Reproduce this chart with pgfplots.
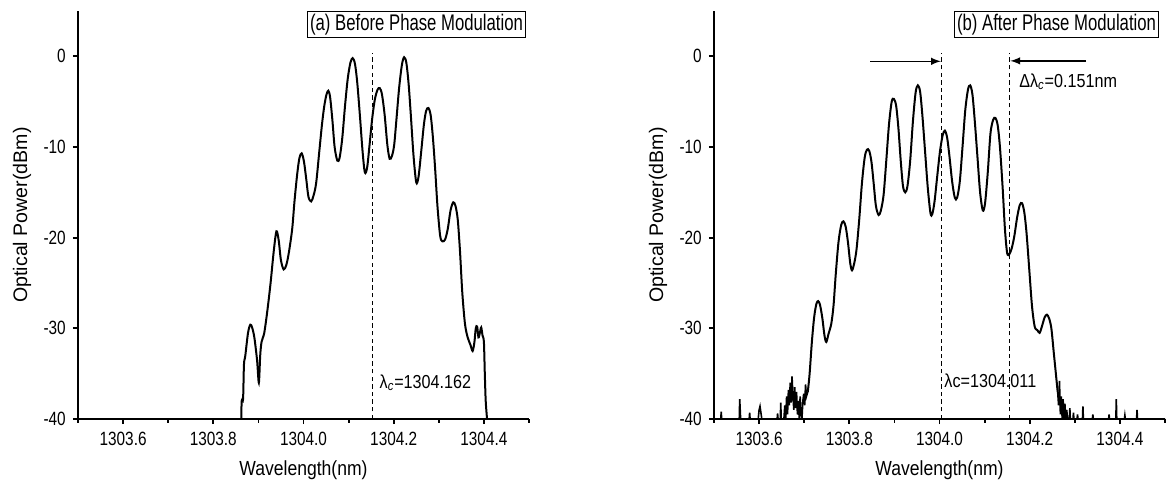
\documentclass[border=0pt]{standalone}
\usepackage{fontspec}
\setmainfont{Liberation Sans}
\usepackage{graphicx}
\usepackage{pgfplots}
\pgfplotsset{compat=1.18}
% condensed text via a horizontal scale
\newcommand\cz[1]{\scalebox{0.8}[1]{#1}}
\newcommand\tz[1]{\scalebox{0.74}[1]{#1}}
\newcommand\sz[1]{\scalebox{0.86}[1]{#1}}

\pgfplotsset{
  spec/.style={
    width=225.5pt, height=204pt, scale only axis,
    xmin=1303.5, xmax=1304.5, ymin=-40, ymax=5,
    axis x line*=bottom, axis y line*=left,
    axis line style={line width=1.1pt},
    xtick={1303.6,1303.8,1304.0,1304.2,1304.4},
    xticklabels={\cz{1303.6},\cz{1303.8},\cz{1304.0},\cz{1304.2},\cz{1304.4}},
    minor xtick={1303.5,1303.7,1303.9,1304.1,1304.3,1304.5},
    ytick={-40,-30,-20,-10,0},
    yticklabels={\cz{-40},\cz{-30},\cz{-20},\cz{-10},\cz{0}},
    tick align=outside,
    major tick length=2.6pt, minor tick length=2pt,
    tick style={line width=0.9pt, black},
    tick label style={font=\fontsize{9.6}{11}\selectfont},
    xticklabel style={yshift=-0.5pt},
    xlabel={\sz{Wavelength(nm)}},
    xlabel style={font=\fontsize{10.2}{12}\selectfont,
      at={(axis description cs:0.5,0)}, anchor=center, yshift=-25.5pt},
    ylabel={Optical Power(dBm)},
    % the label is rotated, so its local y points to the left
    ylabel style={font=\fontsize{9.8}{12}\selectfont,
      at={(axis description cs:0,0.5)}, anchor=center, yshift=28pt},
    every axis plot/.append style={black, line width=1pt},
  },
}
\tikzset{
  ttl/.style={draw, line width=0.6pt, inner sep=1.2pt, minimum height=11pt,
    font=\fontsize{11.3}{12}\selectfont, anchor=north east},
  ann/.style={font=\fontsize{9.4}{11}\selectfont, anchor=west, inner sep=0pt},
  vdash/.style={line width=0.6pt, dash pattern=on 2.2pt off 1.6pt},
}

\begin{document}
\begin{tikzpicture}
% (a) before phase modulation
\begin{axis}[spec]
\addplot[sharp plot] coordinates {(1303.5,-40)(1303.862,-40)};
\addplot[smooth, tension=0.5] coordinates {
(1303.862,-40)(1303.863,-38)(1303.866,-37.8)(1303.868,-34)(1303.871,-33)
(1303.877,-30.5)(1303.882,-29.6)(1303.886,-29.9)(1303.891,-31)(1303.897,-33.5)
(1303.901,-36)(1303.904,-33)(1303.907,-31.5)(1303.913,-30.5)(1303.920,-28)
(1303.927,-25)(1303.934,-21.5)(1303.940,-19.3)(1303.945,-20.3)(1303.950,-22.5)
(1303.956,-23.5)(1303.962,-23)(1303.968,-21.5)(1303.975,-19)(1303.980,-16)
(1303.986,-13)(1303.991,-11.2)(1303.996,-10.7)(1304.001,-11.6)(1304.006,-13.5)
(1304.011,-15.5)(1304.017,-16)(1304.022,-15.4)(1304.028,-14)(1304.035,-10.5)
(1304.041,-7.5)(1304.046,-5.5)(1304.051,-4.2)(1304.055,-3.8)(1304.059,-4.5)
(1304.064,-7)(1304.069,-10)(1304.075,-11.5)(1304.080,-11.2)(1304.086,-9)
(1304.092,-5.5)(1304.098,-2.5)(1304.104,-0.7)(1304.109,-0.2)(1304.114,-0.8)
(1304.119,-2.8)(1304.125,-6.5)(1304.131,-10.5)(1304.136,-12.8)(1304.141,-12.3)
(1304.146,-10)(1304.152,-7)(1304.158,-4.8)(1304.164,-3.7)(1304.169,-3.5)
(1304.174,-4.2)(1304.180,-6.5)(1304.186,-9.8)(1304.191,-11.3)(1304.196,-11)
(1304.201,-9.8)(1304.206,-7)(1304.212,-3.5)(1304.218,-1)(1304.223,-0.1)
(1304.228,-0.7)(1304.233,-3)(1304.238,-6.5)(1304.244,-11)(1304.250,-13.9)
(1304.255,-13.3)(1304.261,-10.5)(1304.267,-7.5)(1304.272,-6)(1304.277,-5.7)
(1304.282,-6.5)(1304.287,-9)(1304.292,-12.5)(1304.297,-16.5)(1304.303,-19.8)
(1304.308,-20.4)(1304.314,-20.2)(1304.320,-19)(1304.326,-17)(1304.332,-16.1)
(1304.337,-16.5)(1304.342,-18)(1304.347,-21.5)(1304.352,-26)(1304.358,-29.5)
(1304.364,-31)(1304.370,-31.8)(1304.375,-32.5)(1304.379,-31.5)(1304.382,-30)
(1304.385,-29.8)(1304.388,-31)(1304.391,-30.5)(1304.394,-29.9)(1304.397,-30.8)
(1304.400,-31.5)(1304.402,-35)(1304.404,-38)(1304.407,-40)
};
\addplot[vdash, line width=0.6pt] coordinates {(1304.153,-40)(1304.153,0.4)};
\node[ann] at (axis cs:1304.168,-36) {\sz{λ\textsubscript{\itshape c}=1304.162}};
\node[ttl, xshift=-1.5pt] at (rel axis cs:1,1) {\tz{(a) Before Phase Modulation}};
\end{axis}

% (b) after phase modulation
\begin{axis}[spec, at={(318pt,0)}]
\addplot[sharp plot, line width=0.8pt] coordinates {
(1303.5,-40)(1303.515,-40)(1303.516,-39.2)(1303.517,-40)(1303.556,-40)
(1303.557,-37.8)(1303.559,-40)(1303.578,-40)(1303.579,-39.3)(1303.580,-40)
(1303.598,-40)(1303.600,-39)(1303.602,-38.6)(1303.604,-39.3)(1303.606,-40)
(1303.640,-40)(1303.641,-39.4)(1303.642,-40)(1303.647,-40)(1303.648,-38.2)
(1303.649,-40)(1303.655,-40)(1303.657,-38.5)(1303.659,-40)(1303.661,-37.5)
(1303.663,-39.5)(1303.665,-36.8)(1303.667,-38.5)(1303.669,-36)(1303.671,-38.2)
(1303.673,-35.3)(1303.675,-37.5)(1303.677,-39)(1303.679,-36.5)(1303.681,-38.8)
(1303.683,-37)(1303.685,-39.5)(1303.687,-38)(1303.689,-40)(1303.691,-37.5)
(1303.693,-39.5)(1303.695,-40)(1303.697,-38)(1303.699,-37.2)(1303.701,-38.5)
(1303.703,-36.2)(1303.705,-37.5)(1303.708,-37)
};
\addplot[smooth, tension=0.5] coordinates {
(1303.708,-37)(1303.712,-35)(1303.717,-31.5)(1303.722,-28.8)(1303.727,-27.3)
(1303.731,-27)(1303.735,-27.4)(1303.740,-28.8)(1303.745,-30.8)(1303.749,-31.5)
(1303.754,-30.6)(1303.760,-29.5)(1303.765,-27.5)(1303.770,-24)(1303.776,-20.5)
(1303.782,-18.6)(1303.787,-18.2)(1303.792,-18.8)(1303.797,-20.5)(1303.802,-22.8)
(1303.806,-23.6)(1303.811,-22.8)(1303.816,-21.3)(1303.822,-18)(1303.828,-14)
(1303.834,-11.2)(1303.839,-10.3)(1303.844,-10.4)(1303.849,-11.6)(1303.854,-14)
(1303.859,-16.5)(1303.865,-17.5)(1303.870,-17)(1303.876,-15.3)(1303.882,-11.5)
(1303.888,-7.5)(1303.894,-5)(1303.899,-4.7)(1303.904,-5.5)(1303.909,-8)
(1303.914,-11.5)(1303.919,-14.3)(1303.924,-15)(1303.929,-14.3)(1303.935,-11.5)
(1303.941,-7.2)(1303.947,-4)(1303.952,-3.2)(1303.957,-3.9)(1303.962,-6.5)
(1303.968,-10.5)(1303.974,-14.5)(1303.980,-17.3)(1303.984,-17.4)(1303.989,-16)
(1303.995,-13.2)(1304.001,-10.5)(1304.007,-8.7)(1304.012,-8.2)(1304.017,-9)
(1304.022,-11)(1304.028,-13.8)(1304.034,-15.6)(1304.039,-15.6)(1304.045,-13.8)
(1304.051,-10)(1304.057,-6)(1304.063,-3.7)(1304.068,-3.2)(1304.073,-4.2)
(1304.078,-7)(1304.084,-11)(1304.090,-15)(1304.096,-17)(1304.101,-16.2)
(1304.107,-12.8)(1304.113,-8.5)(1304.119,-7)(1304.124,-6.8)(1304.129,-7.6)
(1304.134,-10)(1304.140,-14.5)(1304.145,-19)(1304.150,-21.7)(1304.155,-21.8)
(1304.160,-21.2)(1304.166,-19.8)(1304.172,-17.8)(1304.178,-16.4)(1304.183,-16.2)
(1304.188,-17.2)(1304.193,-19.5)(1304.199,-23.5)(1304.205,-27.5)(1304.211,-29.8)
(1304.217,-30.2)(1304.222,-30.5)(1304.227,-29.8)(1304.233,-28.8)(1304.238,-28.5)
(1304.243,-28.9)(1304.248,-30)(1304.253,-32.5)(1304.258,-35)(1304.262,-37)
};
\addplot[sharp plot, line width=0.8pt] coordinates {
(1304.262,-37)(1304.264,-38.5)(1304.266,-35.8)(1304.268,-39.5)(1304.270,-37.5)
(1304.272,-40)(1304.274,-37.8)(1304.276,-40)(1304.278,-38.3)(1304.280,-40)
(1304.282,-39)(1304.284,-40)(1304.288,-40)(1304.289,-38.8)(1304.290,-40)
(1304.296,-40)(1304.297,-39.3)(1304.298,-40)(1304.305,-40)(1304.306,-39.5)
(1304.307,-40)(1304.317,-40)(1304.318,-38.6)(1304.319,-40)(1304.339,-40)
(1304.340,-39.5)(1304.341,-40)(1304.375,-40)(1304.376,-39.5)(1304.377,-40)
(1304.391,-40)(1304.392,-37.8)(1304.393,-40)(1304.410,-40)(1304.411,-39.6)
(1304.412,-40)(1304.437,-40)(1304.438,-39)(1304.439,-40)(1304.5,-40)
};
\addplot[vdash, line width=0.6pt] coordinates {(1304.005,-40)(1304.005,0.4)};
\addplot[vdash, line width=0.6pt] coordinates {(1304.155,-40)(1304.155,0.4)};
\draw[->, >=latex, line width=0.7pt] (axis cs:1303.846,-0.55) -- (axis cs:1304.003,-0.55);
\draw[->, >=latex, line width=0.7pt] (axis cs:1304.325,-0.5) -- (axis cs:1304.157,-0.5);
\node[ann] at (axis cs:1304.176,-2.75) {\sz{Δλ\textsubscript{\itshape c}=0.151nm}};
\node[ann] at (axis cs:1304.010,-35.8) {\sz{λc=1304.011}};
\node[ttl, xshift=-3pt] at (rel axis cs:1,1) {\tz{(b) After Phase Modulation}};
\end{axis}
\pgfresetboundingbox
\path[use as bounding box] (-39pt,-33pt) rectangle (544pt,209.5pt);
\end{tikzpicture}
\end{document}
